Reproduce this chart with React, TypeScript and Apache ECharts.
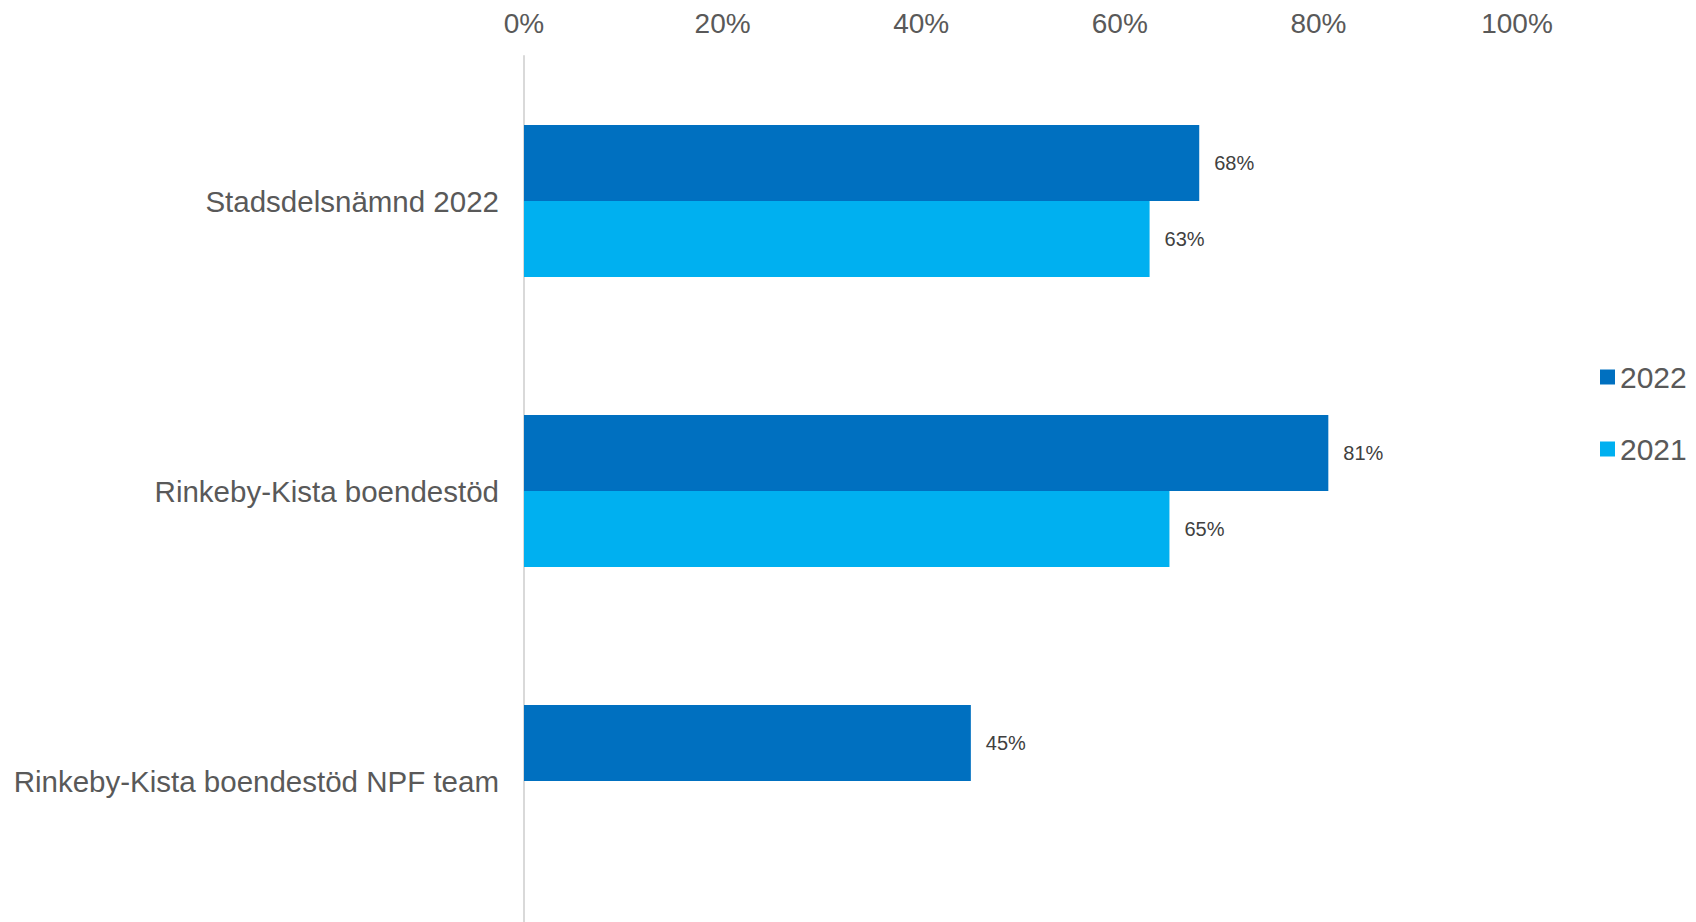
import React, { useEffect, useRef } from "react";
import * as echarts from "echarts";

const categories = [
  "Stadsdelsnämnd 2022",
  "Rinkeby-Kista boendestöd",
  "Rinkeby-Kista boendestöd NPF team",
];
const values2022 = [68, 81, 45];
const values2021: (number | null)[] = [63, 65, null];
const xTicks = [0, 20, 40, 60, 80, 100];

export default function App() {
  const ref = useRef<HTMLDivElement>(null);
  useEffect(() => {
    document.body.style.margin = "0";
    const chart = echarts.init(ref.current!, null, { renderer: "svg" });
    const font = "Liberation Sans, Arial, sans-serif";
    chart.setOption({
      animation: false,
      backgroundColor: "#ffffff",
      textStyle: { fontFamily: font },
      legend: {
        orient: "vertical",
        left: 1595,
        top: 357,
        itemWidth: 15,
        itemHeight: 15,
        itemGap: 42,
        icon: "rect",
        textStyle: { fontSize: 30, color: "#595959", fontFamily: font, lineHeight: 30 },
        data: ["2022", "2021"],
      },
      grid: { left: 524, right: 179, top: 56, height: 870, containLabel: false },
      xAxis: {
        type: "value",
        position: "top",
        min: xTicks[0],
        max: xTicks[xTicks.length - 1],
        interval: 20,
        axisLine: { show: false },
        axisTick: { show: false },
        splitLine: { show: false },
        axisLabel: {
          formatter: "{value}%",
          fontSize: 28,
          color: "#595959",
          margin: 19,
          fontFamily: font,
        },
      },
      yAxis: {
        type: "category",
        inverse: true,
        data: categories,
        axisLine: { show: true, lineStyle: { color: "#D9D9D9", width: 2 } },
        axisTick: { show: false },
        axisLabel: { fontSize: 29.5, color: "#595959", margin: 25, fontFamily: font },
      },
      series: [
        {
          name: "2022",
          type: "bar",
          data: values2022,
          barWidth: 76,
          barGap: "0%",
          itemStyle: { color: "#0070C0" },
          label: {
            show: true,
            position: "right",
            distance: 15,
            formatter: "{c}%",
            fontSize: 20,
            color: "#404040",
            fontFamily: font,
          },
        },
        {
          name: "2021",
          type: "bar",
          data: values2021,
          barWidth: 76,
          barGap: "0%",
          itemStyle: { color: "#00B0F0" },
          label: {
            show: true,
            position: "right",
            distance: 15,
            formatter: "{c}%",
            fontSize: 20,
            color: "#404040",
            fontFamily: font,
          },
        },
      ],
    });
    return () => chart.dispose();
  }, []);
  return (
    <div
      ref={ref}
      style={{ position: "fixed", left: 0, top: 0, width: 1696, height: 940 }}
    />
  );
}
